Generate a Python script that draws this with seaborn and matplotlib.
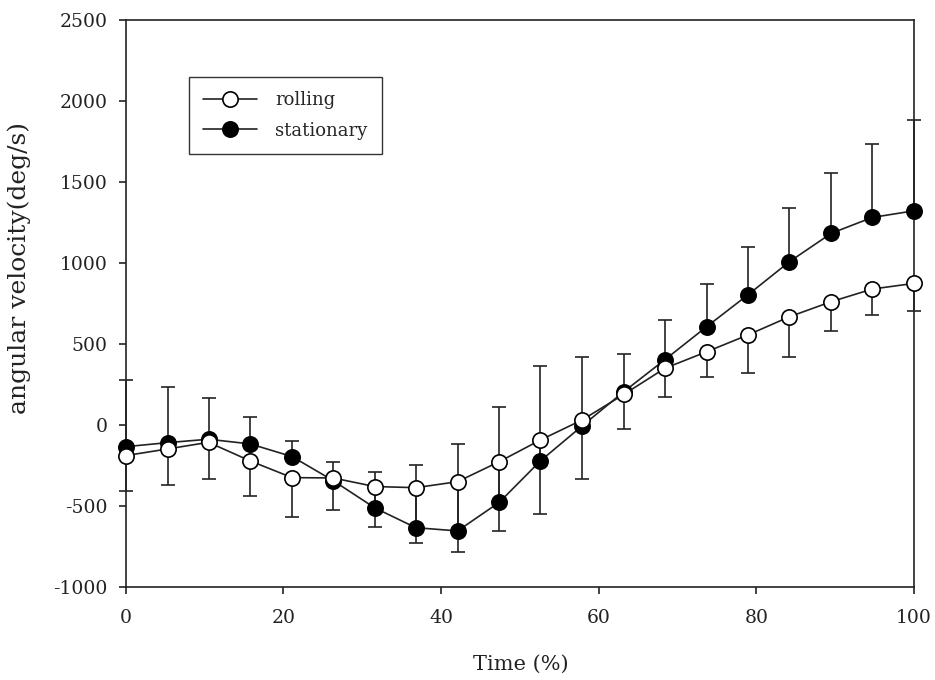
import matplotlib
matplotlib.use("Agg")
import matplotlib.pyplot as plt
import seaborn as sns
import numpy as np

# time points (% of movement)
time_pct = [0, 5.3, 10.5, 15.8, 21.1, 26.3, 31.6, 36.8, 42.1, 47.4,
            52.6, 57.9, 63.2, 68.4, 73.7, 78.9, 84.2, 89.5, 94.7, 100]

# rolling : mean and SD (SD drawn downward)
rolling_mean = [-189, -148, -107, -222, -325, -327, -380, -387, -350, -226,
                -93, 31, 189, 350, 452, 555, 668, 761, 839, 874]
rolling_sd = [216, 222, 226, 216, 241, 197, 251, 339, 435, 426,
              456, 364, 214, 175, 158, 236, 248, 179, 160, 171]

# stationary : mean and SD (SD drawn upward)
stationary_mean = [-134, -109, -88, -117, -195, -343, -512, -634, -654, -477,
                   -222, -6, 206, 403, 607, 802, 1008, 1183, 1281, 1322]
stationary_sd = [412, 345, 253, 168, 98, 117, 224, 387, 535, 586,
                 588, 424, 232, 242, 261, 296, 329, 370, 455, 558]

yticks = [-1000, -500, 0, 500, 1000, 1500, 2000, 2500]
xticks = [0, 20, 40, 60, 80, 100]

sns.set_style("ticks")
plt.rcParams['font.family'] = ['DejaVu Serif']
plt.rcParams['axes.unicode_minus'] = False

fig = plt.figure(figsize=(9.35, 6.8), dpi=100)
ax = fig.add_axes([0.1345, 0.1368, 0.843, 0.8338])

n = len(time_pct)
zeros = np.zeros(n)

# error bars (one-sided)
ax.errorbar(time_pct, stationary_mean, yerr=[zeros, stationary_sd], fmt='none',
            ecolor='#222222', elinewidth=1.2, capsize=5, capthick=1.2,
            zorder=1, clip_on=False)
ax.errorbar(time_pct, rolling_mean, yerr=[rolling_sd, zeros], fmt='none',
            ecolor='#222222', elinewidth=1.2, capsize=5, capthick=1.2,
            zorder=1, clip_on=False)

# lines + markers
sns.lineplot(x=time_pct, y=stationary_mean, ax=ax, color='#222222',
             marker='o', markersize=11, markerfacecolor='black',
             markeredgecolor='black', markeredgewidth=1.2, linewidth=1.2,
             label='stationary', zorder=3, clip_on=False)
sns.lineplot(x=time_pct, y=rolling_mean, ax=ax, color='#222222',
             marker='o', markersize=11, markerfacecolor='white',
             markeredgecolor='black', markeredgewidth=1.2, linewidth=1.2,
             label='rolling', zorder=4, clip_on=False)

ax.set_xlim(0, 100)
ax.set_ylim(-1000, 2500)
ax.set_xticks(xticks)
ax.set_yticks(yticks)
ax.tick_params(axis='both', direction='out', length=5, width=1.2,
               labelsize=13.5, colors='#222222')
ax.tick_params(axis='x', pad=11)
ax.tick_params(axis='y', pad=8)
for side in ['left', 'bottom', 'top', 'right']:
    ax.spines[side].set_visible(True)
    ax.spines[side].set_linewidth(1.2)
    ax.spines[side].set_color('#222222')

ax.set_xlabel('Time (%)', fontsize=15, color='#222222')
ax.set_ylabel('angular velocity(deg/s)', fontsize=18, color='#222222')
ax.xaxis.set_label_coords(0.501, -0.12)
ax.yaxis.set_label_coords(-0.12, 0.563)

h, l = ax.get_legend_handles_labels()
order = [l.index('rolling'), l.index('stationary')]
leg = ax.legend([h[i] for i in order], [l[i] for i in order],
                loc='upper left', bbox_to_anchor=(0.08, 0.9),
                fontsize=13, frameon=True, fancybox=False, shadow=False,
                edgecolor='#333333', framealpha=1, borderpad=0.8,
                handlelength=3.0, handletextpad=1.0, labelspacing=0.7,
                borderaxespad=0)
leg.get_frame().set_linewidth(1.0)

fig.savefig('out.png', dpi=100)
